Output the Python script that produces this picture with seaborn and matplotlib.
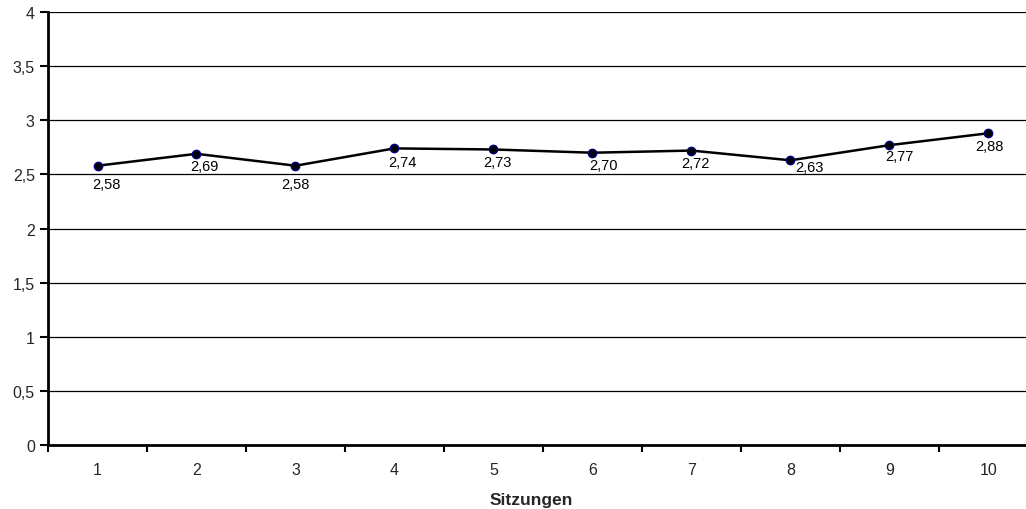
import matplotlib
matplotlib.use("Agg")
import matplotlib.pyplot as plt
import seaborn as sns
import pandas as pd
from matplotlib.ticker import FixedLocator, FuncFormatter

# Data
sitzungen = [1, 2, 3, 4, 5, 6, 7, 8, 9, 10]
werte = [2.58, 2.69, 2.58, 2.74, 2.73, 2.70, 2.72, 2.63, 2.77, 2.88]
y_ticks = [0, 0.5, 1, 1.5, 2, 2.5, 3, 3.5, 4]

# where each value label sits relative to its point (pixels, right / down)
label_dx = [9, 8, 0, 8, 4, 11, 4, 19, 10, 1]
label_dy = [18, 12, 18, 14, 13, 12, 12, 7, 11, 13]

df = pd.DataFrame({"Sitzung": sitzungen, "Wert": werte})

sns.set_theme(style="white")
plt.rcParams['font.family'] = ['Liberation Sans', 'DejaVu Sans']

fig = plt.figure(figsize=(10.26, 5.10), dpi=100)
# axes reaches beyond the right edge, like the cropped original
ax = fig.add_axes([48 / 1026, 64 / 510, 990 / 1026, 433 / 510])

# gridlines first so the line sits on top
for y in y_ticks[1:]:
    ax.axhline(y, color='black', linewidth=0.9, zorder=1)

sns.lineplot(data=df, x="Sitzung", y="Wert", color='black', linewidth=1.8,
             marker='o', markersize=6, markerfacecolor='black',
             markeredgecolor='#000080', markeredgewidth=1.0, ax=ax, zorder=3)

# data labels below each point
for x, y, dx, dy in zip(sitzungen, werte, label_dx, label_dy):
    ax.annotate(f"{y:.2f}".replace('.', ','), (x, y), textcoords='offset pixels',
                xytext=(dx, -dy), ha='center', va='center', fontsize=10.5, color='black')

ax.set_xlim(0.5, 10.5)
ax.set_ylim(0, 4)

# y axis
ax.yaxis.set_major_locator(FixedLocator(y_ticks))
ax.yaxis.set_major_formatter(FuncFormatter(lambda v, p: f"{v:g}".replace('.', ',')))
ax.tick_params(axis='y', which='major', direction='out', length=6, width=1.5,
               color='black', labelsize=11.5, pad=3.5, left=True)

# x axis: ticks between categories, labels at centres
ax.xaxis.set_major_locator(FixedLocator([i + 0.5 for i in range(0, 11)]))
ax.xaxis.set_major_formatter(FuncFormatter(lambda v, p: ""))
ax.xaxis.set_minor_locator(FixedLocator(sitzungen))
ax.xaxis.set_minor_formatter(FuncFormatter(lambda v, p: f"{int(v)}"))
ax.tick_params(axis='x', which='major', direction='out', length=5, width=1.5,
               color='black', bottom=True)
ax.tick_params(axis='x', which='minor', length=0, labelsize=11.5, pad=12, bottom=True)

ax.set_xlabel("Sitzungen", fontsize=12.5, fontweight='bold')
ax.set_ylabel("")
ax.xaxis.set_label_coords((531 - 48) / 990, -0.108)

for side in ['top', 'right']:
    ax.spines[side].set_visible(False)
for side in ['left', 'bottom']:
    ax.spines[side].set_color('black')
    ax.spines[side].set_linewidth(2)
    ax.spines[side].set_zorder(4)

fig.savefig("out.png", dpi=100)
